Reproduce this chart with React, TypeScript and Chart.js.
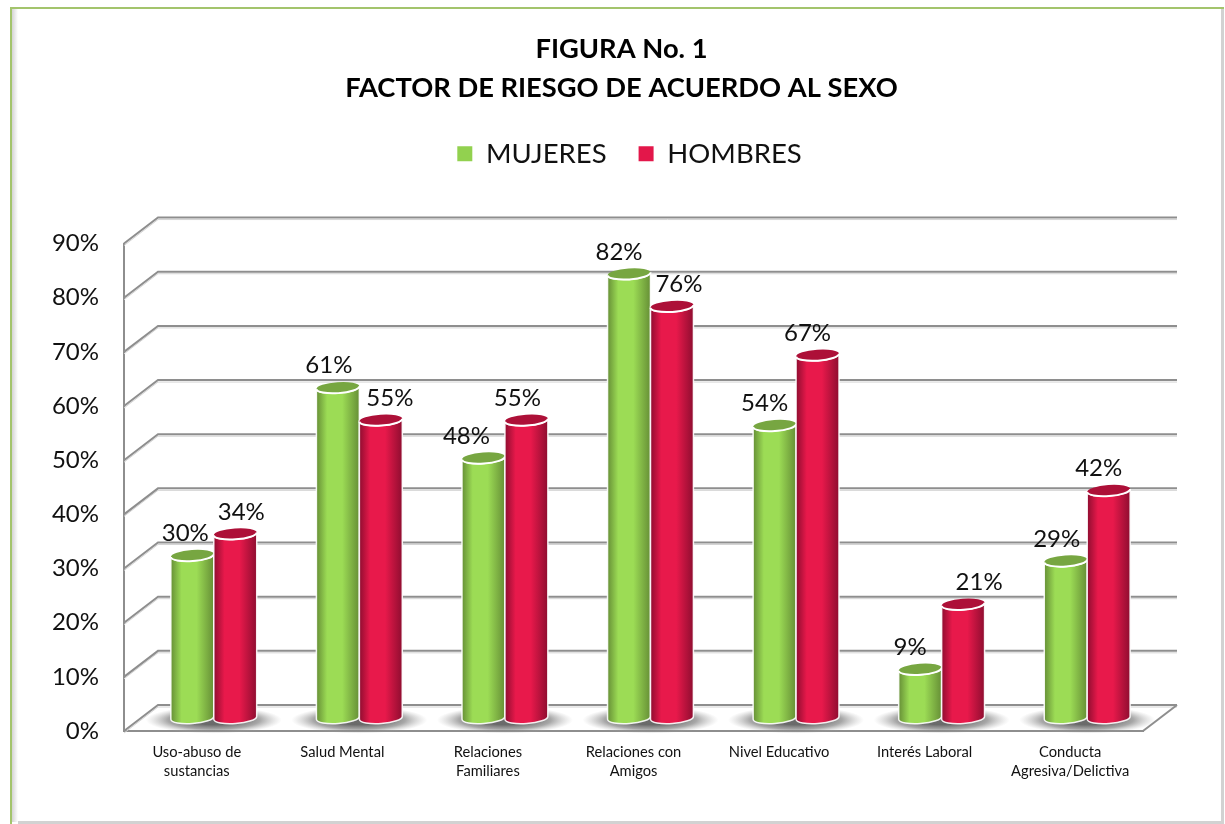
import React, { useEffect, useRef } from "react";
import { Chart, registerables } from "chart.js";

Chart.register(...registerables);

const categories = [
  ["Uso-abuso de", "sustancias"],
  ["Salud Mental"],
  ["Relaciones", "Familiares"],
  ["Relaciones con", "Amigos"],
  ["Nivel Educativo"],
  ["Interés Laboral"],
  ["Conducta", "Agresiva/Delictiva"],
];
const mujeres = [30, 61, 48, 82, 54, 9, 29];
const hombres = [34, 55, 55, 76, 67, 21, 42];
const yTicks = [0, 10, 20, 30, 40, 50, 60, 70, 80, 90];

const FONT = "Lato, Carlito, sans-serif";
const DEPTH_X = 34;
const DEPTH_Y = 26;
const BAR_SHIFT_X = 17;
const BAR_SHIFT_Y = 13;
const LABEL_RISE = 22;
const labelShiftMujeres = [-7, -9, -17, -10, -10, -10, -9];
const labelShiftHombres = [6, 9, -9, 7, -10, 16, -10];

const paints = [
  { edge: "#668f36", mid: "#9cdc55", top: "#77a641" },
  { edge: "#8f0d30", mid: "#e8194b", top: "#ad1038" },
];

const framePlugin = {
  id: "frame",
  afterLayout(chart: any) {
    chart.legend.left += 8;
    chart.legend.right += 8;
  },
  beforeDraw(chart: any) {
    const { ctx } = chart;
    ctx.save();
    ctx.fillStyle = "#ffffff";
    ctx.fillRect(0, 0, 1225, 824);
    const shade = ctx.createLinearGradient(12, 0, 18, 0);
    shade.addColorStop(0, "#d4d4d4");
    shade.addColorStop(1, "#ffffff");
    ctx.fillStyle = shade;
    ctx.fillRect(12, 8, 6, 814);
    ctx.fillStyle = "#d2d2d2";
    ctx.fillRect(1221, 9, 3, 814);
    ctx.fillRect(18, 821, 1206, 3);
    ctx.fillStyle = "#a3c46c";
    ctx.fillRect(10, 7, 1214, 2);
    ctx.fillRect(10, 7, 2, 817);
    ctx.restore();
  },
};

function strokeGridPath(ctx: any, pts: number[][]) {
  ctx.beginPath();
  pts.forEach(([x, y], i) => (i ? ctx.lineTo(x, y) : ctx.moveTo(x, y)));
  ctx.stroke();
}

const wallPlugin = {
  id: "wall",
  beforeDatasetsDraw(chart: any) {
    const { ctx, chartArea } = chart;
    const yScale = chart.scales.y;
    const { left, right } = chartArea;
    ctx.save();
    yTicks.forEach((t) => {
      const y = yScale.getPixelForValue(t);
      const path = [
        [left, y],
        [left + DEPTH_X, y - DEPTH_Y],
        [right + DEPTH_X, y - DEPTH_Y],
      ];
      ctx.lineWidth = 1;
      ctx.strokeStyle = "#d4d4d4";
      strokeGridPath(ctx, path.map(([a, b]) => [a, b + 2]));
      ctx.lineWidth = 2;
      ctx.strokeStyle = "#8e8e8e";
      strokeGridPath(ctx, path);
    });
    const y0 = yScale.getPixelForValue(0);
    ctx.lineWidth = 2;
    ctx.strokeStyle = "#8e8e8e";
    strokeGridPath(ctx, [
      [right, y0],
      [right + DEPTH_X, y0 - DEPTH_Y],
    ]);

    // soft shadow on the floor below each pair of bars
    const a = chart.getDatasetMeta(0).data;
    const b = chart.getDatasetMeta(1).data;
    a.forEach((el: any, i: number) => {
      const cx = (el.x + b[i].x) / 2 + BAR_SHIFT_X;
      const cy = y0 - BAR_SHIFT_Y + 2;
      ctx.save();
      ctx.translate(cx, cy);
      ctx.scale(1, 0.2);
      const g = ctx.createRadialGradient(0, 0, 24, 0, 0, 68);
      g.addColorStop(0, "rgba(90,90,90,0.9)");
      g.addColorStop(0.5, "rgba(120,120,120,0.65)");
      g.addColorStop(1, "rgba(170,170,170,0)");
      ctx.fillStyle = g;
      ctx.beginPath();
      ctx.arc(0, 0, 68, 0, Math.PI * 2);
      ctx.fill();
      ctx.restore();
    });
    ctx.restore();
  },
};

const cylinderPlugin = {
  id: "cylinders",
  beforeDatasetDraw() {
    return false;
  },
  afterDatasetsDraw(chart: any) {
    const { ctx } = chart;
    const tilt = -0.07;
    [0, 1].forEach((d) => {
      const paint = paints[d];
      chart.getDatasetMeta(d).data.forEach((el: any) => {
        const l = el.x - el.width / 2 + BAR_SHIFT_X;
        const w = el.width;
        const cx = l + w / 2;
        const top = el.y - BAR_SHIFT_Y;
        const base = el.base - BAR_SHIFT_Y;
        const rx = w / 2;
        const ry = 5.5;
        const grad = ctx.createLinearGradient(l, 0, l + w, 0);
        grad.addColorStop(0, paint.edge);
        grad.addColorStop(0.25, paint.mid);
        grad.addColorStop(0.6, paint.mid);
        grad.addColorStop(1, paint.edge);
        ctx.save();
        ctx.beginPath();
        ctx.moveTo(l, top);
        ctx.lineTo(l, base);
        ctx.ellipse(cx, base, rx, ry, tilt, Math.PI, 0, true);
        ctx.lineTo(l + w, top);
        ctx.ellipse(cx, top, rx, ry, tilt, 0, Math.PI, false);
        ctx.closePath();
        ctx.fillStyle = grad;
        ctx.fill();
        ctx.strokeStyle = "rgba(255,255,255,0.9)";
        ctx.lineWidth = 1.5;
        ctx.stroke();
        ctx.beginPath();
        ctx.ellipse(cx, top, rx, ry, tilt, 0, Math.PI * 2);
        ctx.fillStyle = paint.top;
        ctx.fill();
        ctx.strokeStyle = "#ffffff";
        ctx.lineWidth = 2;
        ctx.beginPath();
        ctx.ellipse(cx, top, rx, ry, tilt, 0, Math.PI);
        ctx.stroke();
        ctx.restore();
      });
    });

    ctx.save();
    ctx.font = `24px ${FONT}`;
    ctx.fillStyle = "#111111";
    ctx.textAlign = "center";
    ctx.textBaseline = "middle";
    [labelShiftMujeres, labelShiftHombres].forEach((shifts, d) => {
      const values = chart.data.datasets[d].data;
      chart.getDatasetMeta(d).data.forEach((el: any, i: number) => {
        ctx.fillText(
          `${values[i]}%`,
          el.x + BAR_SHIFT_X + shifts[i],
          el.y - BAR_SHIFT_Y - LABEL_RISE
        );
      });
    });
    ctx.restore();
  },
};

export default function App() {
  const ref = useRef<HTMLCanvasElement>(null);
  useEffect(() => {
    const chart = new Chart(ref.current as HTMLCanvasElement, {
      type: "bar",
      data: {
        labels: categories,
        datasets: [
          { label: "MUJERES", data: mujeres, backgroundColor: "#92d14f", categoryPercentage: 0.59, barPercentage: 1 },
          { label: "HOMBRES", data: hombres, backgroundColor: "#e3174a", categoryPercentage: 0.59, barPercentage: 1 },
        ],
      },
      plugins: [framePlugin, wallPlugin, cylinderPlugin],
      options: {
        animation: false,
        responsive: false,
        layout: { padding: { left: 18, right: 0, top: 30, bottom: 0 } },
        plugins: {
          title: {
            display: true,
            text: ["FIGURA No. 1", "FACTOR DE RIESGO DE ACUERDO AL SEXO"],
            color: "#000000",
            font: { family: FONT, size: 27.3, weight: "bold", lineHeight: 1.43 },
            padding: 0,
          },
          legend: {
            position: "top",
            labels: {
              boxWidth: 15,
              boxHeight: 15,
              padding: 32,
              color: "#111111",
              font: { family: FONT, size: 27.5 },
            },
          },
          tooltip: { enabled: false },
        },
        scales: {
          x: {
            grid: { display: false },
            border: { display: true, color: "#8e8e8e", width: 2 },
            ticks: {
              color: "#111111",
              font: { family: FONT, size: 14.7, lineHeight: 1.3 },
              maxRotation: 0,
              minRotation: 0,
              autoSkip: false,
              padding: 4,
            },
            afterFit(scale: any) {
              scale.height = 93;
            },
          },
          xTop: {
            type: "category",
            axis: "x",
            position: "top",
            labels: [""],
            grid: { display: false },
            border: { display: false },
            ticks: { display: false },
            afterFit(scale: any) {
              scale.height = 66;
            },
          },
          y: {
            min: 0,
            max: 90,
            grid: { display: false },
            border: { display: true, color: "#8e8e8e", width: 2 },
            ticks: {
              stepSize: 10,
              padding: 17,
              color: "#111111",
              font: { family: FONT, size: 24 },
              callback: (v: any) => `${v}%`,
            },
            afterFit(scale: any) {
              scale.width = 106;
            },
          },
          ySpacer: {
            type: "linear",
            axis: "y",
            position: "right",
            grid: { display: false },
            border: { display: false },
            ticks: { display: false },
            afterFit(scale: any) {
              scale.width = 82;
            },
          },
        },
      },
    } as any);
    return () => chart.destroy();
  }, []);
  return (
    <canvas
      ref={ref}
      width={1225}
      height={824}
      style={{ position: "fixed", left: 0, top: 0, display: "block" }}
    />
  );
}
